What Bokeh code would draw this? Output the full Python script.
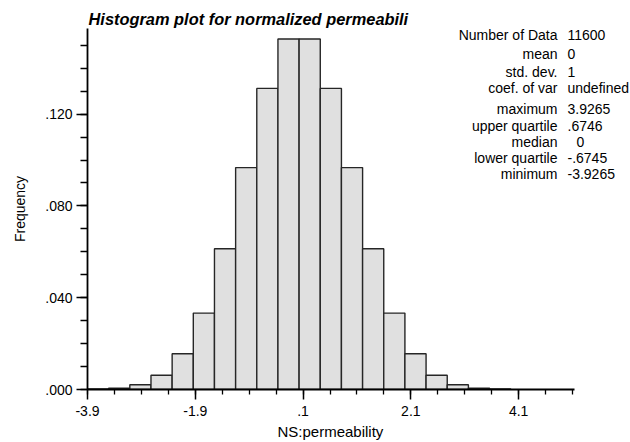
from math import pi
from bokeh.plotting import figure
from bokeh.models import Range1d, FixedTicker, Label, ColumnDataSource, Title
from bokeh.embed import file_html
from bokeh.resources import INLINE

# ---------------- data ----------------
data_min = -3.9265
data_max = 3.9265
n_bins = 20
frequencies = [0.0002, 0.0006, 0.0021, 0.0062, 0.0156, 0.0333, 0.0613, 0.0967, 0.1312, 0.1527,
               0.1527, 0.1312, 0.0967, 0.0613, 0.0333, 0.0156, 0.0062, 0.0021, 0.0006, 0.0002]
x_axis_end = 5.11
y_axis_end = 0.1573
x_tick_labels = ["-3.9", "-1.9", ".1", "2.1", "4.1"]
x_tick_step = 2.0
x_minor_step = 0.5
y_tick_values = [0.0, 0.04, 0.08, 0.12]
y_tick_labels = [".000", ".040", ".080", ".120"]
y_minor_step = 0.01
stat_names = ["Number of Data", "mean", "std. dev.", "coef. of var", "maximum",
              "upper quartile", "median", "lower quartile", "minimum"]
stat_values = ["11600", "0", "1", "undefined", "3.9265", ".6746", "0", "-.6745", "-3.9265"]
title_text = "Histogram plot for normalized permeabili"
x_label = "NS:permeability"
y_label = "Frequency"

# ---------------- layout ----------------
W, H = 630, 442
AX_L, AX_R = 87, 574          # pixel ends of the x axis
AX_T, AX_B = 28, 389          # pixel ends of the y axis
X0 = data_min
PXX = (AX_R - AX_L) / (x_axis_end - X0)
PXY = (AX_B - AX_T) / y_axis_end
BL, BR, BT, BB = AX_L, 0, AX_T, H - AX_B
X1 = X0 + (W - AX_L) / PXX

def dx(px):
    return X0 + (px - AX_L) / PXX

def dy(py):
    return (AX_B - py) / PXY

width = (data_max - data_min) / n_bins
lefts = [data_min + i * width for i in range(n_bins)]
rights = [l + width for l in lefts]
src = ColumnDataSource(dict(left=lefts, right=rights, top=frequencies,
                            bottom=[0] * n_bins))

p = figure(width=W, height=H, output_backend="svg", toolbar_location=None,
           x_range=Range1d(X0, X1), y_range=Range1d(0, y_axis_end),
           min_border_left=BL, min_border_right=BR, min_border_top=BT,
           min_border_bottom=BB)
p.outline_line_color = None
p.xgrid.visible = False
p.ygrid.visible = False
p.background_fill_color = "white"
p.border_fill_color = "white"

p.quad(left="left", right="right", top="top", bottom="bottom", source=src,
       fill_color="#e0e0e0", line_color="#262626", line_width=1.4)

FONT = "Liberation Sans"

# x axis
xt = [data_min + i * x_tick_step for i in range(len(x_tick_labels))]
nminor = int((x_axis_end - data_min) / x_minor_step) + 1
xm = [data_min + i * x_minor_step for i in range(nminor)]
p.xaxis.ticker = FixedTicker(ticks=xt, minor_ticks=xm)
p.xaxis.major_label_overrides = {t: l for t, l in zip(xt, x_tick_labels)}
p.xaxis.bounds = (X0, x_axis_end)
# y axis
ym = [round(i * y_minor_step, 3) for i in range(int(y_axis_end / y_minor_step) + 1)]
p.yaxis.ticker = FixedTicker(ticks=y_tick_values, minor_ticks=ym)
p.yaxis.major_label_overrides = {t: l for t, l in zip(y_tick_values, y_tick_labels)}

for ax in (p.xaxis[0], p.yaxis[0]):
    ax.axis_line_width = 1.8
    ax.axis_line_color = "black"
    ax.major_tick_line_width = 1.5
    ax.minor_tick_line_width = 1.3
    ax.major_tick_in = 0
    ax.minor_tick_in = 0
    ax.major_label_text_font = FONT
    ax.major_label_text_font_size = "14px"
    ax.major_label_text_color = "black"
p.xaxis.major_tick_out = 10
p.xaxis.minor_tick_out = 5
p.xaxis.major_label_standoff = 6
p.yaxis.major_tick_out = 11
p.yaxis.minor_tick_out = 7
p.yaxis.major_label_standoff = 4
p.yaxis.axis_label = y_label
p.yaxis.axis_label_text_font = FONT
p.yaxis.axis_label_text_font_size = "14px"
p.yaxis.axis_label_text_font_style = "normal"
p.yaxis.axis_label_text_color = "black"
p.yaxis.axis_label_standoff = 14

# x axis title in the bottom panel
p.add_layout(Title(text=x_label, align="left", offset=190, standoff=4,
                   text_font=FONT, text_font_size="15px",
                   text_font_style="normal", text_color="black"), "below")

# chart title in the top panel
p.add_layout(Title(text=title_text, align="left", offset=1, standoff=2,
                   text_font=FONT, text_font_size="16.4px",
                   text_font_style="bold italic", text_color="black"), "above")

# statistics block
rows_y = [34, 53, 71, 87, 108, 125, 141, 157, 173]
for name, val, ry in zip(stat_names, stat_values, rows_y):
    p.add_layout(Label(x=dx(557), y=dy(ry), text=name, text_font=FONT,
                       text_font_size="14px", text_align="right",
                       text_baseline="middle", text_color="black"))
    off = 9 if name == "median" else 0
    p.add_layout(Label(x=dx(567 + off), y=dy(ry), text=val, text_font=FONT,
                       text_font_size="14px", text_align="left",
                       text_baseline="middle", text_color="black"))

open("out.html", "w").write(file_html(p, INLINE))
